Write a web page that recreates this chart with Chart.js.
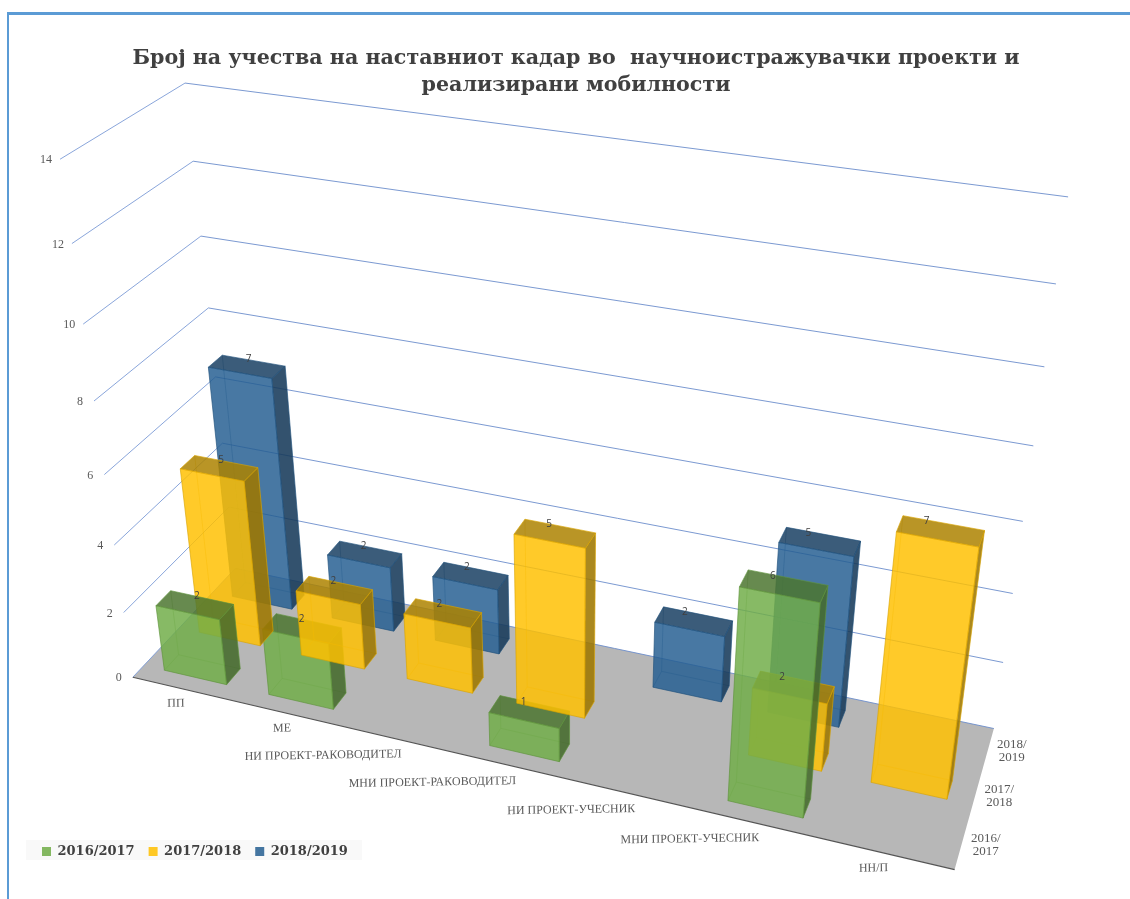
<!DOCTYPE html>
<html>
<head>
<meta charset="utf-8">
<title>Chart</title>
<script src="https://cdn.jsdelivr.net/npm/chart.js@4"></script>
<style>
  html, body { margin: 0; padding: 0; background: #fff; overflow: hidden; }
  #frame { position: absolute; left: 7px; top: 12px; right: 0; bottom: 0; border-left: 2px solid #5B9BD5; border-top: 3px solid #5B9BD5; }
  #c { position: absolute; left: 0; top: 0; }
</style>
</head>
<body>
<div id="frame"></div>
<canvas id="c" width="1130" height="899"></canvas>
<script>
// === DATA ===
const categories = ['ПП', 'МЕ', 'НИ ПРОЕКТ-РАКОВОДИТЕЛ', 'МНИ ПРОЕКТ-РАКОВОДИТЕЛ', 'НИ ПРОЕКТ-УЧЕСНИК', 'МНИ ПРОЕКТ-УЧЕСНИК', 'НН/П'];
const seriesNames = ['2016/2017', '2017/2018', '2018/2019'];
const values2016 = [2, 2, null, 1, null, 6, null];
const values2017 = [5, 2, 2, 5, null, 2, 7];
const values2018 = [7, 2, 2, null, 2, 5, null];
const titleLines = ['Број на учества на наставниот кадар во  научноистражувачки проекти и', 'реализирани мобилности'];
const seriesColors = [[112, 173, 71], [255, 192, 0], [37, 94, 145]];

// === CAMERA (box corners on screen, u = category, v = depth, w = value) ===
const leftFront = [[133, 677], [123, 612], [114, 545], [104, 474], [94, 401], [84, 324], [72, 244], [60, 160]];
const leftBack = [[236, 570], [230, 507], [222, 443], [215, 376], [208, 308], [201, 236], [193, 161], [185, 83]];
const rightBack = [[993, 728], [1003, 663], [1013, 593], [1023, 521], [1033, 446], [1045, 367], [1056, 284], [1068, 197]];
const rightFront = [955, 870];
const depthShare = 0.40;   // bar depth inside its series row
const greenUnderYellow = [1, 3];

function fitCamera() {
  const samples = [[1, 0, 0, rightFront[0], rightFront[1]]];
  for (let k = 0; k < 8; k++) {
    samples.push([0, 0, k / 7, leftFront[k][0], leftFront[k][1]]);
    samples.push([0, 1, k / 7, leftBack[k][0], leftBack[k][1]]);
    samples.push([1, 1, k / 7, rightBack[k][0], rightBack[k][1]]);
  }
  const n = 11;
  const A = Array.from({length: n}, () => new Array(n + 1).fill(0));
  const addRow = (row, rhs) => {
    for (let i = 0; i < n; i++) {
      for (let j = 0; j < n; j++) A[i][j] += row[i] * row[j];
      A[i][n] += row[i] * rhs;
    }
  };
  samples.forEach(([u, v, w, px, py]) => {
    const x = px / 1000, y = py / 1000;
    addRow([u, v, w, 1, 0, 0, 0, 0, -x * u, -x * v, -x * w], x);
    addRow([0, 0, 0, 0, u, v, w, 1, -y * u, -y * v, -y * w], y);
  });
  for (let i = 0; i < n; i++) {
    let best = i;
    for (let r = i + 1; r < n; r++) if (Math.abs(A[r][i]) > Math.abs(A[best][i])) best = r;
    [A[i], A[best]] = [A[best], A[i]];
    for (let r = 0; r < n; r++) {
      if (r === i) continue;
      const f = A[r][i] / A[i][i];
      for (let c = i; c <= n; c++) A[r][c] -= f * A[i][c];
    }
  }
  return A.map((row, i) => row[n] / row[i]);
}
const cam = fitCamera();

function project(u, v, w) {
  const d = cam[8] * u + cam[9] * v + cam[10] * w + 1;
  return [
    1000 * (cam[0] * u + cam[1] * v + cam[2] * w + cam[3]) / d,
    1000 * (cam[4] * u + cam[5] * v + cam[6] * w + cam[7]) / d
  ];
}

function poly(ctx, pts, fill, stroke) {
  ctx.beginPath();
  pts.forEach((p, i) => i ? ctx.lineTo(p[0], p[1]) : ctx.moveTo(p[0], p[1]));
  ctx.closePath();
  if (fill) { ctx.fillStyle = fill; ctx.fill(); }
  if (stroke) { ctx.strokeStyle = stroke; ctx.lineWidth = 0.8; ctx.stroke(); }
}

function line(ctx, a, b, color, width) {
  ctx.beginPath();
  ctx.moveTo(a[0], a[1]);
  ctx.lineTo(b[0], b[1]);
  ctx.strokeStyle = color;
  ctx.lineWidth = width;
  ctx.stroke();
}

const rgba = (c, k, a) => `rgba(${Math.round(c[0] * k)},${Math.round(c[1] * k)},${Math.round(c[2] * k)},${a})`;

function drawBar(ctx, color, u0, u1, v0, v1, w) {
  const f = (u, v, h) => project(u, v, h);
  // inner edges show through the glass
  const inner = rgba(color, 0.8, 0.55);
  line(ctx, f(u0, v1, 0), f(u1, v1, 0), inner, 0.7);
  line(ctx, f(u0, v1, 0), f(u0, v0, 0), inner, 0.7);
  line(ctx, f(u0, v1, 0), f(u0, v1, w), inner, 0.7);
  // side, top, front
  const edge = rgba(color, 0.85, 0.8);
  poly(ctx, [f(u1, v0, 0), f(u1, v1, 0), f(u1, v1, w), f(u1, v0, w)], rgba(color, 0.62, 0.88), edge);
  poly(ctx, [f(u0, v0, w), f(u1, v0, w), f(u1, v1, w), f(u0, v1, w)], rgba(color, 0.68, 0.85), edge);
  poly(ctx, [f(u0, v0, 0), f(u1, v0, 0), f(u1, v0, w), f(u0, v0, w)], rgba(color, 1, 0.84), edge);
}

const scene3d = {
  id: 'scene3d',
  afterLayout(chart) {
    // title sits a little left of the padded centre
    chart.titleBlock.left -= 3;
    chart.titleBlock.right -= 3;
  },
  beforeDraw(chart) {
    const ctx = chart.ctx, lg = chart.legend;
    ctx.fillStyle = '#F9F9F9';
    ctx.fillRect(lg.left - 2, lg.top + 9, 336, 20);
  },
  beforeDatasetsDraw(chart) {
    const ctx = chart.ctx, area = chart.chartArea;
    const xs = chart.scales.x, ys = chart.scales.y, ds = chart.scales.depth;
    const toU = px => (px - area.left) / area.width;
    const toW = py => (area.bottom - py) / area.height;
    const toV = px => (px - area.left) / area.width;

    // floor
    poly(ctx, [project(0, 0, 0), project(1, 0, 0), project(1, 1, 0), project(0, 1, 0)], '#B7B7B7');

    // grid and value axis
    ctx.font = '12px "Liberation Serif"';
    ctx.textBaseline = 'middle';
    ys.ticks.forEach(t => {
      const w = toW(ys.getPixelForValue(t.value));
      const a = project(0, 0, w), b = project(0, 1, w), c = project(1, 1, w);
      line(ctx, a, b, '#7C9BD6', 0.9);
      line(ctx, b, c, '#6C8DCC', 0.9);
      ctx.fillStyle = '#595959';
      ctx.textAlign = 'center';
      ctx.fillText(t.label, a[0] - 14, a[1] + 1);
    });
    line(ctx, project(0, 0, 0), project(1, 0, 0), '#555', 1.2);

    // bars, back row first; green goes under yellow at a couple of spots like the original
    const queue = [];
    chart.data.datasets.forEach((set, j) => {
      const meta = chart.getDatasetMeta(j);
      const vc = toV(ds.getPixelForValue(j));
      const half = depthShare * (1 / seriesNames.length) / 2;
      meta.data.forEach((el, i) => {
        if (set.data[i] == null) return;
        const late = j === 0 && greenUnderYellow.includes(i) ? 1.5 : j;
        queue.push({
          order: late, i, j, value: set.data[i],
          u0: toU(el.x - el.width / 2), u1: toU(el.x + el.width / 2),
          v0: vc - half, v1: vc + half, w: toW(el.y)
        });
      });
    });
    queue.sort((a, b) => b.order - a.order || a.i - b.i);
    queue.forEach(b => drawBar(ctx, seriesColors[b.j], b.u0, b.u1, b.v0, b.v1, b.w));

    // value labels on the back edge of each top face, drifting left towards the right side
    ctx.font = '10px "Open Sans"';
    ctx.fillStyle = '#404040';
    ctx.textAlign = 'center';
    queue.forEach(b => {
      const mid = (b.u0 + b.u1) / 2;
      const p = project(mid, b.v1, b.w);
      ctx.fillText(String(b.value), p[0] - 4 - 14 * mid, p[1] - 1.5);
    });

    // category labels along the front edge
    ctx.font = '12px "Liberation Serif"';
    ctx.fillStyle = '#595959';
    categories.forEach((name, i) => {
      const p = project(toU(xs.getPixelForValue(i)), 0, 0);
      ctx.save();
      ctx.translate(p[0], p[1] + 14);
      ctx.rotate(-0.017);
      ctx.textAlign = 'right';
      ctx.fillText(name, 0, 0);
      ctx.restore();
    });

    // series labels along the right edge
    ctx.font = '13px "Liberation Serif"';
    ctx.textAlign = 'center';
    ds.getLabels().forEach((name, j) => {
      const p = project(1, toV(ds.getPixelForValue(j)), 0);
      const parts = name.split('/');
      ctx.fillText(parts[0] + '/', p[0] + 24, p[1] - 6);
      ctx.fillText(parts[1], p[0] + 24, p[1] + 7);
    });
    return false;
  }
};

new Chart(document.getElementById('c').getContext('2d'), {
  type: 'bar',
  data: {
    labels: categories,
    datasets: [values2016, values2017, values2018].map((data, j) => ({
      label: seriesNames[j],
      data,
      backgroundColor: rgba(seriesColors[j], 1, 0.85),
      grouped: false,
      categoryPercentage: 0.60,
      barPercentage: 1
    }))
  },
  options: {
    responsive: false,
    animation: false,
    layout: { padding: { left: 28, bottom: 31 } },
    scales: {
      x: { display: false },
      y: { display: false, min: 0, max: 14, ticks: { stepSize: 2 } },
      depth: { type: 'category', axis: 'x', position: 'bottom', display: false, offset: true, labels: seriesNames }
    },
    plugins: {
      title: {
        display: true,
        text: titleLines,
        color: '#404040',
        font: { family: '"DejaVu Serif"', size: 20.6, weight: 'bold', lineHeight: 1.32 },
        padding: { top: 45, bottom: 10 }
      },
      legend: {
        position: 'bottom',
        align: 'start',
        labels: {
          color: '#404040',
          font: { family: '"DejaVu Serif"', size: 13, weight: 'bold' },
          boxWidth: 9,
          boxHeight: 9,
          padding: 14
        }
      },
      tooltip: { enabled: false }
    }
  },
  plugins: [scene3d]
});
</script>
</body>
</html>
